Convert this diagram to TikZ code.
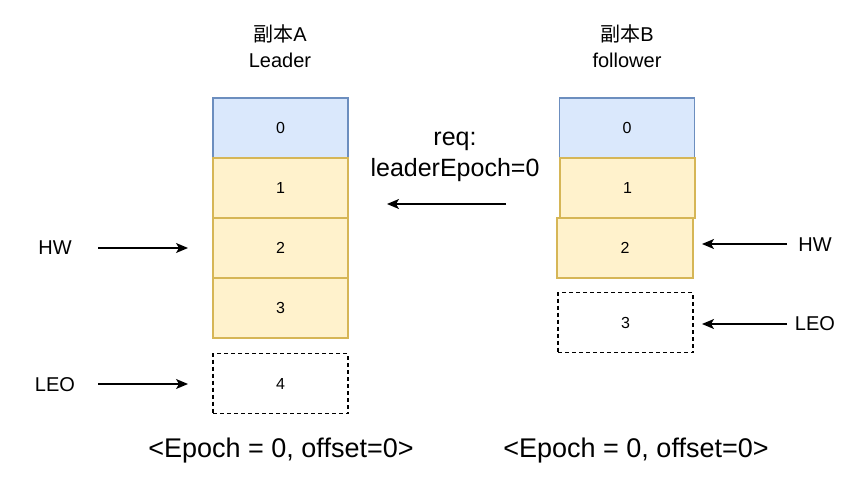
\documentclass[tikz,border=0pt]{standalone}
\usepackage{fontspec}
\setmainfont{Liberation Sans}
\newfontfamily\cjk{Noto Sans CJK SC}
\usetikzlibrary{arrows.meta}
\tikzset{
  blk/.style={draw, line width=1.3pt, minimum width=135pt, minimum height=60pt, inner sep=0pt, font=\fontsize{16}{18}\selectfont},
  blue/.style={blk, fill={rgb,255:red,218;green,232;blue,252}, draw={rgb,255:red,108;green,142;blue,191}},
  yel/.style={blk, fill={rgb,255:red,255;green,242;blue,204}, draw={rgb,255:red,214;green,182;blue,86}},
  dsh/.style={blk, draw=black, dash pattern=on 4pt off 3pt},
  lbl/.style={font=\fontsize{20}{26}\selectfont, align=center, inner sep=0pt},
  arr/.style={-{Stealth[length=12pt,width=10pt,inset=3pt]}, line width=1.3pt},
}
\begin{document}
\begin{tikzpicture}[x=1pt,y=-1pt]
\useasboundingbox (0,0) rectangle (862,500);
% left column
\node[blue] (a0) at (280.5,128) {0};
\node[yel] (a1) at (280.5,188) {1};
\node[yel] (a2) at (280.5,248) {2};
\node[yel] (a3) at (280.5,308) {3};
\node[dsh] (a4) at (280.5,383.5) {4};
\node[lbl] (ta) at (280,46) {{\cjk 副本}A\\Leader};
% right column
\node[blue] (b0) at (627,128) {0};
\node[yel] (b1) at (627.5,188) {1};
\node[yel, minimum width=136pt] (b2) at (625,248) {2};
\node[dsh] (b3) at (625.5,322.5) {3};
\node[lbl] (tb) at (627,46) {{\cjk 副本}B\\follower};
% left pointers
\node[lbl] (hwa) at (55,248) {HW};
\node[lbl] (leoa) at (55,385) {LEO};
\coordinate (hwas) at (98,248);
\coordinate (hwae) at (188,248);
\coordinate (leoas) at (98,384);
\coordinate (leoae) at (188,384);
\draw[arr] (hwas) -- (hwae);
\draw[arr] (leoas) -- (leoae);
% right pointers
\node[lbl] (hwb) at (815,245) {HW};
\node[lbl] (leob) at (815,324) {LEO};
\coordinate (hwbs) at (787,244);
\coordinate (hwbe) at (702,244);
\coordinate (leobs) at (787,324);
\coordinate (leobe) at (702,324);
\draw[arr] (hwbs) -- (hwbe);
\draw[arr] (leobs) -- (leobe);
% request
\node[lbl, font=\fontsize{25}{31}\selectfont] (req) at (455,157) {req:\\leaderEpoch=0};
\coordinate (rs) at (506,204);
\coordinate (re) at (387,204);
\draw[arr] (rs) -- (re);
% bottom
\node[lbl, font=\fontsize{27}{30}\selectfont] (ea) at (281,451) {<Epoch = 0, offset=0>};
\node[lbl, font=\fontsize{27}{30}\selectfont] (eb) at (636,451) {<Epoch = 0, offset=0>};
\end{tikzpicture}
\end{document}
